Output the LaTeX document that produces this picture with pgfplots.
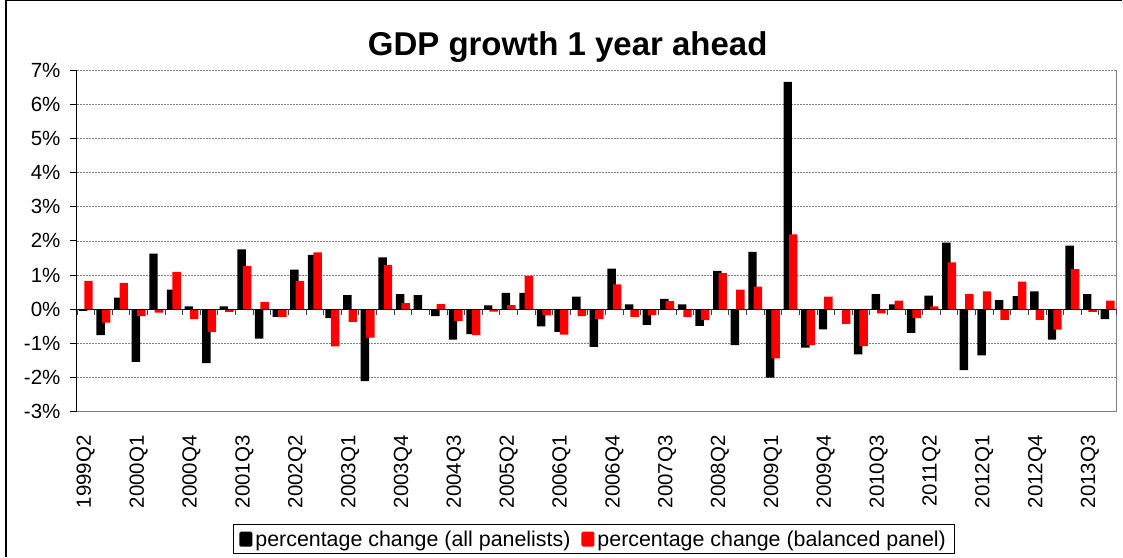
\documentclass[border=0pt]{standalone}
\usepackage{fontspec}
\setmainfont{Liberation Sans}
\usepackage{pgfplots}
\usepackage{pgfplotstable}
\pgfplotsset{compat=1.18}
\pgfplotstableread{
i all bal
0 -0.05 0.83
1 -0.76 -0.39
2 0.34 0.77
3 -1.54 -0.20
4 1.63 -0.10
5 0.57 1.09
6 0.08 -0.29
7 -1.58 -0.66
8 0.08 -0.08
9 1.75 1.26
10 -0.86 0.21
11 -0.22 -0.22
12 1.16 0.83
13 1.59 1.66
14 -0.26 -1.09
15 0.41 -0.37
16 -2.10 -0.83
17 1.52 1.30
18 0.44 0.18
19 0.41 0.00
20 -0.20 0.15
21 -0.89 -0.34
22 -0.73 -0.76
23 0.11 -0.07
24 0.48 0.12
25 0.48 0.97
26 -0.50 -0.18
27 -0.66 -0.74
28 0.37 -0.20
29 -1.10 -0.29
30 1.19 0.73
31 0.14 -0.22
32 -0.46 -0.17
33 0.30 0.24
34 0.14 -0.22
35 -0.49 -0.32
36 1.12 1.06
37 -1.05 0.57
38 1.68 0.66
39 -2.00 -1.44
40 6.65 2.19
41 -1.12 -1.05
42 -0.59 0.37
43 0.00 -0.43
44 -1.32 -1.08
45 0.44 -0.12
46 0.14 0.25
47 -0.69 -0.26
48 0.40 0.08
49 1.95 1.37
50 -1.78 0.44
51 -1.35 0.52
52 0.27 -0.31
53 0.38 0.81
54 0.52 -0.31
55 -0.89 -0.60
56 1.86 1.17
57 0.44 -0.08
58 -0.29 0.25
}\gdpdata
\begin{document}
\begin{tikzpicture}
\begin{axis}[
  width=1040pt, height=342pt, scale only axis,
  clip=false,
  xmin=-0.5, xmax=58.5, ymin=-3, ymax=7,
  ybar, bar width=0.48,
  axis line style={draw=none},
  ytick={-3,-2,...,7},
  yticklabels={-3\%,-2\%,-1\%,0\%,1\%,2\%,3\%,4\%,5\%,6\%,7\%},
  ytick pos=left, tick align=outside,
  ytick style={black, line width=0.8pt},
  major tick length=7pt,
  yticklabel style={xshift=-6pt},
  xtick={0,3,...,57},
  xticklabels={1999Q2,2000Q1,2000Q4,2001Q3,2002Q2,2003Q1,2003Q4,2004Q3,2005Q2,2006Q1,2006Q4,2007Q3,2008Q2,2009Q1,2009Q4,2010Q3,2011Q2,2012Q1,2012Q4,2013Q3},
  xtick style={draw=none},
  xticklabel style={rotate=90, anchor=east},
  xticklabel shift=13pt,
  ticklabel style={font=\fontsize{20.5}{24}\selectfont},
  ymajorgrids,
  major grid style={gray, dash pattern=on 2pt off 1pt, line width=0.7pt},
  legend columns=2,
  legend cell align=left,
  legend image code/.code={\fill[#1, rounded corners=1.5pt] (0pt,-7.5pt) rectangle (13pt,7.5pt);},
  legend style={at={(axis description cs:0.4971,-0.3728)}, anchor=center,
    draw=black, line width=0.8pt, font=\fontsize{21.4}{25}\selectfont,
    inner xsep=6pt, inner ysep=4pt,
    /tikz/every odd column/.append style={column sep=1pt},
    /tikz/every even column/.append style={column sep=9pt}},
]
\addplot[fill=black, draw=none, bar shift=-0.155] table[x=i, y=all] {\gdpdata};
\addplot[fill=red, draw=none, bar shift=0.155] table[x=i, y=bal] {\gdpdata};
\draw[gray, line width=0.9pt] (rel axis cs:0,0) -- (rel axis cs:1,0) -- (rel axis cs:1,1);
\draw[black, line width=1pt] (rel axis cs:0,0) -- (rel axis cs:0,1);
\draw[black, line width=1.2pt] (axis cs:-0.5,0) -- (axis cs:58.5,0);
\pgfplotsinvokeforeach{0,...,59}{\draw[gray!50!black, line width=0.8pt] (axis cs:#1-0.5,0) -- ++(0pt,-6pt);}
\legend{percentage change (all panelists),percentage change (balanced panel)}
\node[anchor=base, font=\fontsize{33}{39}\selectfont\bfseries] at (axis description cs:0.4721,1.0409) {GDP growth 1 year ahead};
\draw[line width=1.2pt] (axis description cs:-0.06827,-0.42398) -- (axis description cs:-0.06827,1.2029) -- (axis description cs:1.00577,1.2029);
\path (axis description cs:-0.07404,-0.42398) rectangle (axis description cs:1.00577,1.20468);
\end{axis}
\end{tikzpicture}
\end{document}
